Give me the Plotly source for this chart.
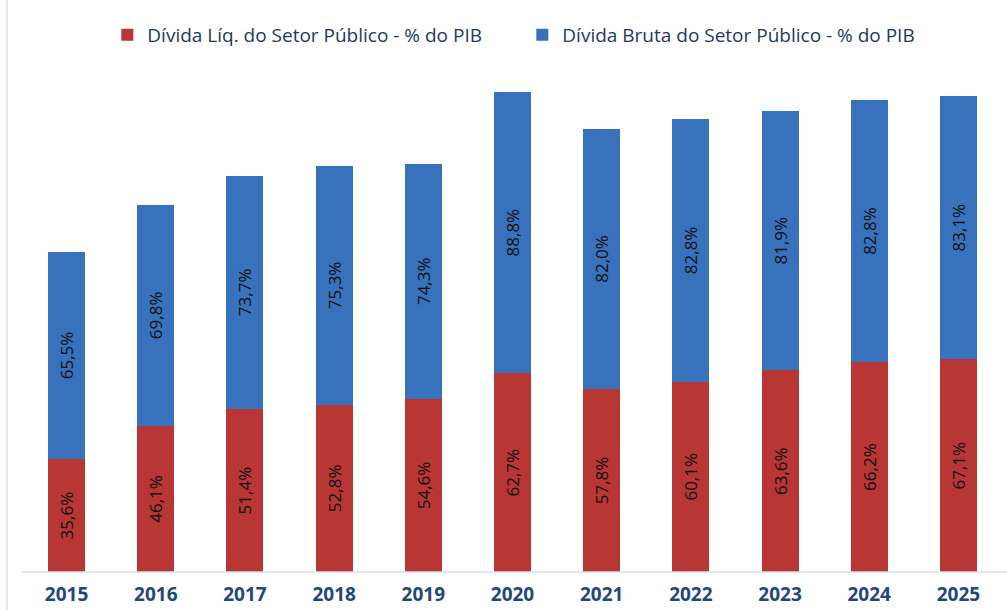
import plotly.graph_objects as go

years = ["2015", "2016", "2017", "2018", "2019", "2020", "2021", "2022", "2023", "2024", "2025"]
liquida = [35.6, 46.1, 51.4, 52.8, 54.6, 62.7, 57.8, 60.1, 63.6, 66.2, 67.1]
bruta = [65.5, 69.8, 73.7, 75.3, 74.3, 88.8, 82.0, 82.8, 81.9, 82.8, 83.1]

name_liq = "Dívida Líq. do Setor Público - % do PIB"
name_bruta = "Dívida Bruta do Setor Público - % do PIB"

def fmt(v):
    return f"{v:.1f}".replace(".", ",") + "%"

label_font = dict(family="Open Sans", size=17, color="#111111")

fig = go.Figure()
fig.add_trace(go.Bar(
    x=years, y=liquida, name=name_liq,
    marker=dict(color="#B83634", line=dict(width=0)),
    text=[fmt(v) for v in liquida], textposition="inside",
    insidetextanchor="middle", textangle=-90, textfont=label_font,
))
fig.add_trace(go.Bar(
    x=years, y=bruta, name=name_bruta,
    marker=dict(color="#3872BC", line=dict(width=0)),
    text=[fmt(v) for v in bruta], textposition="inside",
    insidetextanchor="middle", textangle=-90, textfont=label_font,
))

L, R, T, B = 22, 4, 65, 38
W = 1007 - L - R
H = 610 - T - B
fig.update_layout(
    barmode="stack",
    bargap=0.585,
    width=1007, height=610,
    margin=dict(l=L, r=R, t=T, b=B, autoexpand=False),
    plot_bgcolor="white", paper_bgcolor="white",
    legend=dict(
        orientation="h", x=0.51, xanchor="center", y=1 + 30 / H, yanchor="middle",
        font=dict(family="Open Sans", size=19, color="#1F3864"),
        traceorder="normal", itemwidth=30, entrywidth=370,
    ),
    xaxis=dict(
        showgrid=False, showline=False, ticks="", ticklabelstandoff=9,
        automargin=False,
        tickfont=dict(family="Open Sans", size=19, color="#24477A", weight="bold"),
    ),
    yaxis=dict(range=[0, 160], visible=False, automargin=False),
    showlegend=True,
    shapes=[
        dict(type="line", xref="paper", yref="paper",
             x0=0, x1=(1007 - L) / W, y0=0, y1=0,
             line=dict(color="#D6E0EE", width=1.5), layer="above"),
        dict(type="line", xref="paper", yref="paper",
             x0=(7 - L) / W, x1=(7 - L) / W, y0=-B / H, y1=1 + T / H,
             line=dict(color="#D6E0EE", width=1.5)),
    ],
)

fig.write_html("out.html", config={"displayModeBar": False},
               post_script="document.body.style.margin='0px';")
